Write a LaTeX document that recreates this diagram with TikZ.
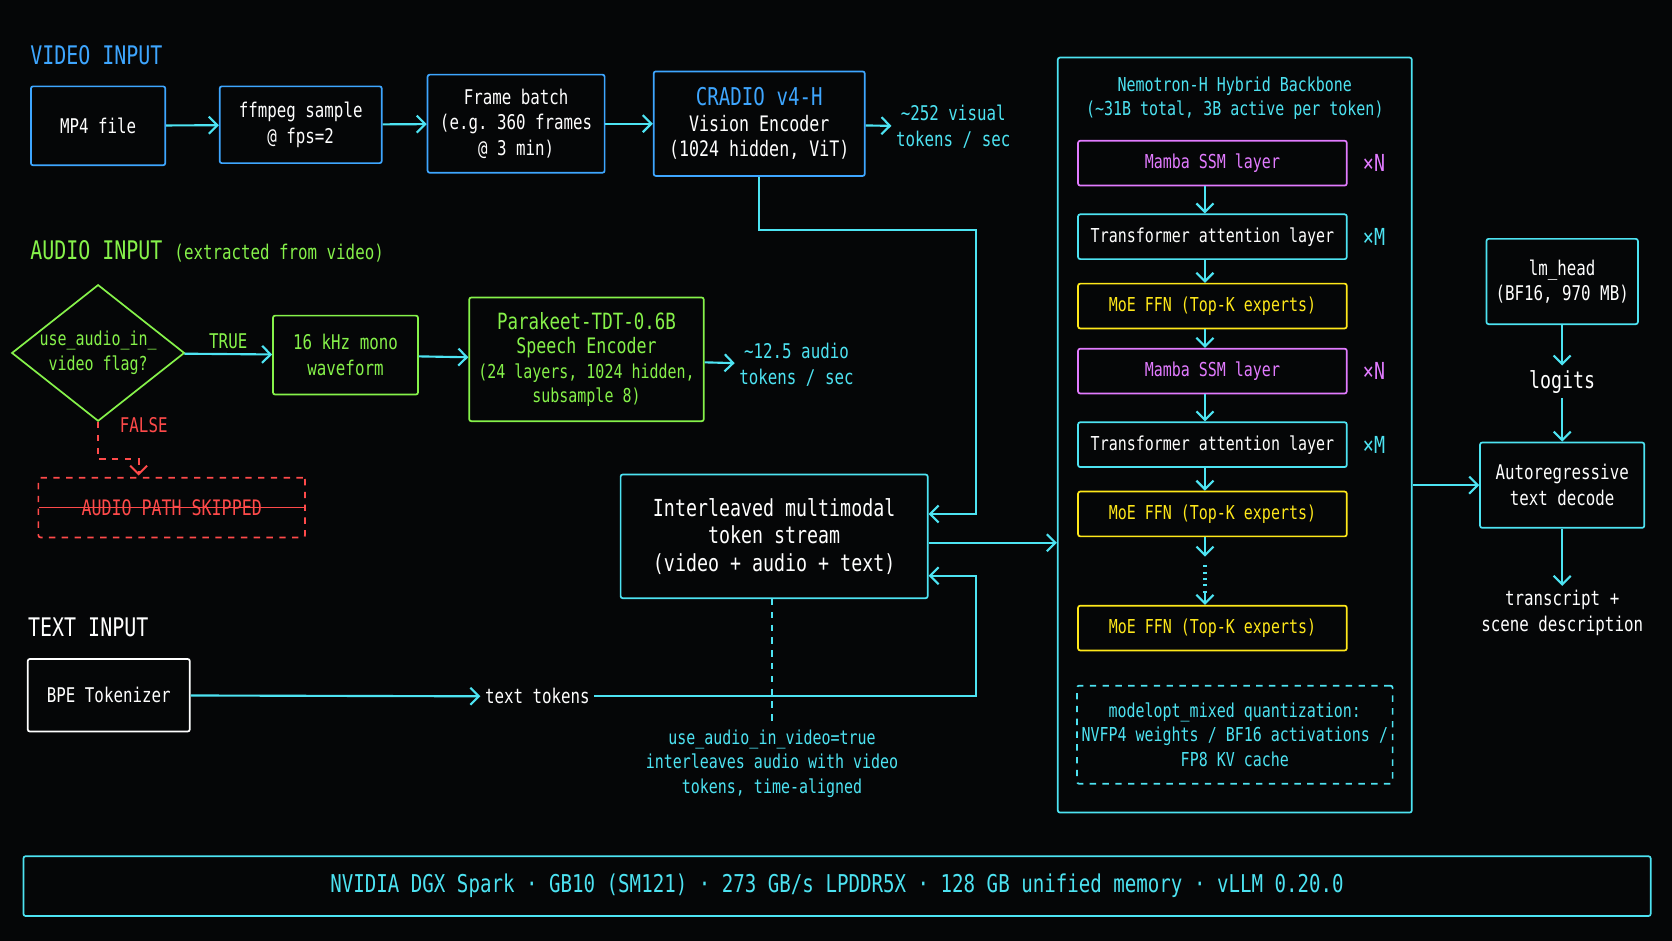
\documentclass[tikz,border=0pt]{standalone}
\usepackage{fontspec}
\setmonofont{DejaVu Sans Mono}[FakeStretch=0.78]
\usetikzlibrary{arrows.meta,shapes.geometric,positioning}
\definecolor{bgc}{HTML}{050607}
\definecolor{cyn}{HTML}{4DE3F2}
\definecolor{vblue}{HTML}{3EA6FF}
\definecolor{agreen}{HTML}{86F24A}
\definecolor{mpink}{HTML}{E27BFF}
\definecolor{myel}{HTML}{FFE81A}
\definecolor{rred}{HTML}{FF4A4A}
\tikzset{
  every node/.style={font=\ttfamily\fontsize{9.5}{12}\selectfont, align=center, inner sep=2pt},
  box/.style={draw, line width=0.8pt, rounded corners=1pt, inner sep=0pt},
  vbox/.style={box, draw=vblue, text=white},
  abox/.style={box, draw=agreen, text=agreen},
  layer/.style={box, minimum width=126, minimum height=21, font=\ttfamily\fontsize{9}{11}\selectfont},
  mamba/.style={layer, draw=mpink, text=mpink},
  trans/.style={layer, draw=cyn, text=white},
  moe/.style={layer, draw=myel, text=myel},
  flow/.style={cyn, line width=1pt, -{Straight Barb[length=4pt,width=8pt]}},
  line/.style={cyn, line width=1pt},
  title/.style={font=\ttfamily\fontsize{12}{14}\selectfont, anchor=west},
}
\begin{document}
\begin{tikzpicture}[x=0.5pt,y=-0.5pt]
  \fill[bgc] (0,0) rectangle (1568,882);

  % video input
  \node[title, text=vblue] (vtitle) at (24,52) {VIDEO INPUT};
  \node[vbox, minimum width=63, minimum height=37] (mp4) at (92,118) {MP4 file};
  \node[vbox, minimum width=76, minimum height=36] (ffmpeg) at (282,117) {ffmpeg sample\\@ fps=2};
  \node[vbox, minimum width=83, minimum height=46] (frames) at (484,116) {Frame batch\\(e.g. 360 frames\\@ 3 min)};
  \node[vbox, minimum width=99, minimum height=49, font=\ttfamily\fontsize{10}{12}\selectfont] (cradio) at (712,116)
       {\textcolor{vblue}{\fontsize{11.5}{13}\selectfont CRADIO v4-H}\\Vision Encoder\\(1024 hidden, ViT)};
  \node[text=cyn, anchor=west] (vtok) at (836,119) {\textasciitilde252 visual\\tokens / sec};
  \draw[flow] (mp4) -- (ffmpeg);
  \draw[flow] (ffmpeg) -- (frames);
  \draw[flow] (frames) -- (cradio);
  \draw[flow] (cradio) -- (vtok);

  % audio input
  \node[title, text=agreen] (atitle) at (24,236) {AUDIO INPUT \fontsize{9.5}{12}\selectfont(extracted from video)};
  \node[diamond, draw=agreen, line width=0.8pt, text=agreen, minimum width=81, minimum height=64, inner sep=0pt, aspect=1.27, font=\ttfamily\fontsize{9}{11.5}\selectfont] (flag) at (92,331) {use\_audio\_in\_\\video flag?};
  \node[abox, minimum width=68, minimum height=37] (wave) at (324,333) {16 kHz mono\\waveform};
  \node[abox, minimum width=110, minimum height=58, font=\ttfamily\fontsize{9}{11.5}\selectfont] (parakeet) at (550,337)
       {{\fontsize{10.5}{12.5}\selectfont Parakeet-TDT-0.6B}\\{\fontsize{10}{11.5}\selectfont Speech Encoder}\\(24 layers, 1024 hidden,\\subsample 8)};
  \node[text=cyn, anchor=west] (atok) at (689,342) {\textasciitilde12.5 audio\\tokens / sec};
  \draw[flow] (flag) -- node[above, text=agreen] {TRUE} (wave);
  \draw[flow] (wave) -- (parakeet);
  \draw[flow] (parakeet) -- (atok);
  \node[box, draw=rred, dashed, minimum width=120, minimum height=28, text=rred] (skip) at (161,476)
       {\tikz[baseline]{\node[inner sep=0pt, anchor=base, font=\ttfamily\fontsize{10}{12}\selectfont] (s) {AUDIO PATH SKIPPED};
        \draw[rred, line width=0.6pt] ([xshift=-2pt]s.west) -- ([xshift=2pt]s.east);}};
  \draw[rred, line width=0.9pt, dashed, -{Straight Barb[length=4pt,width=8pt]}] (flag.south) -- ++(0,35) -| node[pos=0.1, above right, text=rred, xshift=4pt, yshift=10pt] {FALSE} (130,446);

  % interleaved stream
  \node[box, draw=cyn, text=white, minimum width=144, minimum height=58, font=\ttfamily\fontsize{11}{13}\selectfont] (stream) at (726,503)
       {Interleaved multimodal\\token stream\\(video + audio + text)};
  \coordinate (vin) at (915,482);
  \draw[flow] (cradio.south) |- (915,216) -- (vin) -- (vin -| stream.east);

  % text input
  \node[title, text=white] (ttitle) at (22,588) {TEXT INPUT};
  \node[box, draw=white, text=white, minimum width=76, minimum height=34] (bpe) at (102,652) {BPE Tokenizer};
  \node[text=white] (ttok) at (504,653) {text tokens};
  \coordinate (tin) at (915,540);
  \draw[flow] (bpe) -- (ttok.west);
  \draw[flow] (ttok.east) -- (915,653) -- (tin) -- (tin -| stream.east);
  \coordinate (notetop) at (724,678);
  \draw[cyn, dashed, line width=0.7pt] (stream.south -| notetop) -- (notetop);
  \node[text=cyn, below=1pt of notetop, font=\ttfamily\fontsize{9}{11.5}\selectfont] (note) {use\_audio\_in\_video=true\\interleaves audio with video\\tokens, time-aligned};

  % backbone
  \node[box, draw=cyn, minimum width=166, minimum height=354] (backbone) at (1158,408) {};
  \node[text=cyn, font=\ttfamily\fontsize{9}{11.5}\selectfont] (btitle) at (1158,92) {Nemotron-H Hybrid Backbone\\(\textasciitilde31B total, 3B active per token)};
  \node[mamba] (l1) at (1137,153) {Mamba SSM layer};
  \node[trans] (l2) at (1137,222) {Transformer attention layer};
  \node[moe]   (l3) at (1137,287) {MoE FFN (Top-K experts)};
  \node[mamba] (l4) at (1137,348) {Mamba SSM layer};
  \node[trans] (l5) at (1137,417) {Transformer attention layer};
  \node[moe]   (l6) at (1137,482) {MoE FFN (Top-K experts)};
  \node[moe]   (l7) at (1137,589) {MoE FFN (Top-K experts)};
  \foreach \n/\l/\c in {l1/N/mpink, l2/M/cyn, l4/N/mpink, l5/M/cyn}
    \node[right=5pt of \n, text=\c, font=\ttfamily\fontsize{11}{13}\selectfont] {×\l};
  \foreach \a/\b in {l1/l2, l2/l3, l3/l4, l4/l5, l5/l6}
    \draw[flow] ([xshift=-3.5pt]\a.south) -- ([xshift=-3.5pt]\b.north);
  \coordinate (dot1) at (1130,522);
  \coordinate (dot2) at (1130,556);
  \draw[flow] ([xshift=-3.5pt]l6.south) -- (dot1);
  \draw[line, dotted, line width=1.5pt] (1130,530) -- (dot2);
  \draw[flow] (dot2) -- ([xshift=-3.5pt]l7.north);
  \node[box, draw=cyn, dashed, text=cyn, minimum width=148, minimum height=46, font=\ttfamily\fontsize{9}{11.5}\selectfont] (quant) at (1158,689)
       {modelopt\_mixed quantization:\\NVFP4 weights / BF16 activations /\\FP8 KV cache};
  \draw[flow] (stream.east |- 0,509) -- (backbone.west |- 0,509);

  % output
  \node[box, draw=cyn, text=white, minimum width=71, minimum height=40] (lmhead) at (1465,264) {lm\_head\\(BF16, 970 MB)};
  \node[text=white, font=\ttfamily\fontsize{11}{13}\selectfont] (logits) at (1465,358) {logits};
  \node[box, draw=cyn, text=white, minimum width=77, minimum height=40] (decode) at (1465,455) {Autoregressive\\text decode};
  \node[text=white] (out) at (1465,575) {transcript +\\scene description};
  \draw[flow] (lmhead) -- (logits);
  \draw[flow] (logits) -- (decode);
  \draw[flow] (decode) -- (out);
  \draw[flow] (backbone.east |- decode) -- (decode);

  % hardware bar
  \node[box, draw=cyn, text=cyn, minimum width=763, minimum height=28, font=\ttfamily\fontsize{11.5}{13}\selectfont] (hw) at (785,831)
       {NVIDIA DGX Spark · GB10 (SM121) · 273 GB/s LPDDR5X · 128 GB unified memory · vLLM 0.20.0};
\end{tikzpicture}
\end{document}
